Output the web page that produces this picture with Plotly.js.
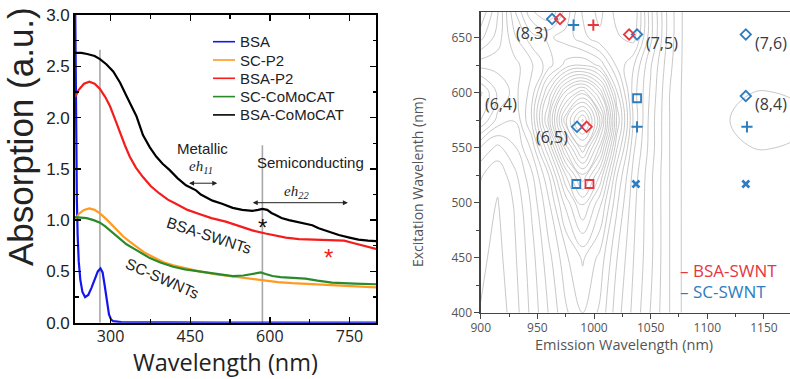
<!DOCTYPE html>
<html>
<head>
<meta charset="utf-8">
<script src="https://cdn.plot.ly/plotly-3.0.1.min.js"></script>
<style>
html,body{margin:0;padding:0;background:#fff;}
#chart{width:790px;height:379px;}
</style>
</head>
<body>
<div id="chart"></div>
<script>
// ---------- Left panel: absorption spectra ----------
const seriesNames = ['BSA', 'SC-P2', 'BSA-P2', 'SC-CoMoCAT', 'BSA-CoMoCAT'];

const bsaX = [233, 234, 235, 236.5, 238, 240, 243, 247, 252, 258, 264, 270, 276, 281, 285, 289, 293, 297, 301, 305, 320, 400, 500, 600, 700, 800];
const bsaY = [3.3, 2.6, 1.8, 1.2, 0.85, 0.6, 0.42, 0.3, 0.25, 0.27, 0.34, 0.43, 0.5, 0.53, 0.49, 0.36, 0.2, 0.08, 0.03, 0.015, 0.005, 0, 0, 0, 0, 0];

const scP2X = [233, 240, 250, 260, 270, 280, 292, 305, 315, 324, 336, 349, 362, 380, 400, 418, 440, 467, 500, 530, 560, 586, 615, 642, 680, 717, 760, 800];
const scP2Y = [1.00, 1.06, 1.10, 1.115, 1.10, 1.066, 1.01, 0.94, 0.89, 0.84, 0.79, 0.74, 0.69, 0.64, 0.59, 0.56, 0.53, 0.50, 0.47, 0.45, 0.43, 0.41, 0.395, 0.385, 0.375, 0.37, 0.355, 0.345];

const bsaP2X = [233, 240, 250, 260, 270, 280, 290, 299, 308, 318, 327, 336, 348, 361, 376, 392, 408, 423, 445, 467, 490, 517, 540, 567, 592, 610, 630, 655, 686, 705, 723, 740, 755, 770, 785, 800];
const bsaP2Y = [2.20, 2.27, 2.33, 2.35, 2.33, 2.28, 2.20, 2.11, 1.99, 1.85, 1.73, 1.62, 1.51, 1.42, 1.33, 1.26, 1.20, 1.16, 1.10, 1.06, 1.02, 0.985, 0.945, 0.90, 0.87, 0.85, 0.83, 0.815, 0.81, 0.81, 0.81, 0.80, 0.78, 0.76, 0.74, 0.72];

const scComoX = [233, 245, 255, 268, 280, 290, 299, 308, 318, 330, 343, 358, 374, 395, 418, 440, 467, 500, 530, 550, 567, 575, 583, 592, 605, 620, 636, 650, 667, 690, 717, 760, 800];
const scComoY = [1.03, 1.025, 1.02, 1.00, 0.975, 0.94, 0.90, 0.855, 0.81, 0.765, 0.725, 0.68, 0.63, 0.585, 0.546, 0.52, 0.50, 0.475, 0.455, 0.46, 0.475, 0.485, 0.49, 0.475, 0.455, 0.445, 0.44, 0.435, 0.43, 0.41, 0.39, 0.38, 0.375];

const bsaComoX = [233, 245, 256, 270, 280, 292, 305, 318, 330, 349, 361, 374, 386, 398, 411, 426, 442, 452, 461, 470, 480, 492, 510, 530, 548, 567, 578, 586, 595, 603, 611, 622, 636, 650, 667, 680, 692, 710, 730, 750, 767, 785, 800];
const bsaComoY = [2.63, 2.63, 2.62, 2.60, 2.57, 2.52, 2.45, 2.34, 2.21, 2.01, 1.83, 1.71, 1.62, 1.55, 1.49, 1.41, 1.34, 1.31, 1.29, 1.25, 1.22, 1.19, 1.16, 1.12, 1.10, 1.09, 1.10, 1.11, 1.10, 1.07, 1.05, 1.02, 1.00, 0.985, 0.97, 0.95, 0.92, 0.89, 0.855, 0.83, 0.81, 0.80, 0.795];

const refLineX = [280, 586];        // gray reference lines (nm)
const refLineTop = [2.66, 1.73];     // their heights
const leftTickVals = [300, 450, 600, 750];

// ---------- Right panel: PL excitation-emission map ----------
const mapX = [900, 915, 930, 945, 960, 975, 990, 1005, 1020, 1035, 1050, 1065, 1080, 1100, 1120, 1140, 1160, 1180];
const mapY = [400, 450, 500, 525, 550, 575, 600, 625, 650, 675];
const mapZ = [
  [14, 12, 16, 22, 28, 34, 38, 34, 26, 20, 14, 8, 3, 1, 1, 1, 1, 1],
  [15, 13, 17, 23, 30, 37, 42, 37, 28, 21, 15, 8, 3, 1, 1, 1, 1, 1],
  [16, 14, 18, 25, 34, 46, 56, 46, 32, 22, 15, 8, 3, 1, 1, 1, 1, 1],
  [18, 15, 20, 27, 38, 55, 68, 55, 35, 23, 15, 8, 3, 1, 1, 1, 1, 1],
  [24, 20, 24, 32, 48, 70, 85, 68, 42, 25, 16, 8, 3, 1, 2, 4, 4, 3],
  [38, 30, 28, 38, 60, 85, 100, 80, 48, 27, 16, 8, 3, 1, 4, 7, 7, 6],
  [42, 34, 30, 36, 52, 70, 78, 65, 42, 26, 17, 8, 3, 1, 2, 4, 4, 3],
  [30, 30, 30, 34, 40, 46, 48, 44, 34, 28, 18, 9, 3, 1, 1, 1, 1, 1],
  [20, 26, 34, 40, 42, 40, 36, 32, 34, 36, 22, 10, 3, 1, 1, 1, 1, 1],
  [14, 24, 38, 48, 52, 44, 34, 30, 36, 38, 22, 10, 3, 1, 1, 1, 1, 1]
];

const bsaDiamondX = [970, 1031, 993.5];
const bsaDiamondY = [667, 653, 569];
const scDiamondX = [963, 1038, 1134, 1134, 985];
const scDiamondY = [667, 653, 653, 597, 569];
const bsaPlusX = [999.4];
const bsaPlusY = [661.5];
const scPlusX = [982, 1038, 1135];
const scPlusY = [661.5, 569, 569];
const bsaSquareX = [996];
const bsaSquareY = [517];
const scSquareX = [984.4, 1038];
const scSquareY = [517, 595];
const scCrossX = [1037, 1134];
const scCrossY = [517, 517];

const chiralLabels = ['(8,3)', '(7,5)', '(7,6)', '(6,4)', '(8,4)', '(6,5)'];
const chiralX = [945.6, 1060, 1156, 917.6, 1156, 963];
const chiralY = [654, 645.5, 645.5, 590, 590, 560];
const mapLegendNames = ['BSA-SWNT', 'SC-SWNT'];

// ---------- colours ----------
const cBlue = '#1515ee', cOrange = '#ff9a22', cRed = '#f51c1c', cGreen = '#2a8a2a', cBlack = '#000000';
const mRed = '#e6373f', mBlue = '#2d7dc0';

const traces = [];
refLineX.forEach((x, i) => {
  traces.push({x: [x, x], y: [0, refLineTop[i]], mode: 'lines', line: {color: '#a8a8a8', width: 1.6},
    showlegend: false, hoverinfo: 'skip', xaxis: 'x', yaxis: 'y'});
});
const specX = [bsaX, scP2X, bsaP2X, scComoX, bsaComoX];
const specY = [bsaY, scP2Y, bsaP2Y, scComoY, bsaComoY];
const specC = [cBlue, cOrange, cRed, cGreen, cBlack];
seriesNames.forEach((n, i) => {
  traces.push({name: n, x: specX[i], y: specY[i], mode: 'lines', line: {color: specC[i], width: 2.2},
    xaxis: 'x', yaxis: 'y', showlegend: false});
});

traces.push({type: 'contour', x: mapX, y: mapY, z: mapZ, xaxis: 'x2', yaxis: 'y2',
  contours: {coloring: 'lines', start: 4, end: 100, size: 3.4},
  colorscale: [[0, '#bababa'], [1, '#bababa']], showscale: false,
  line: {width: 0.8, smoothing: 1.2}, hoverinfo: 'skip', showlegend: false});

function mk(x, y, sym, col, size, lw) {
  return {x: x, y: y, mode: 'markers', xaxis: 'x2', yaxis: 'y2', showlegend: false, hoverinfo: 'skip',
    marker: {symbol: sym, size: size, color: col, line: {color: col, width: lw}}};
}
traces.push(mk(scDiamondX, scDiamondY, 'diamond-open', mBlue, 8, 1.8));
traces.push(mk(bsaDiamondX, bsaDiamondY, 'diamond-open', mRed, 8, 1.8));
traces.push(mk(scPlusX, scPlusY, 'cross-thin-open', mBlue, 8, 2));
traces.push(mk(bsaPlusX, bsaPlusY, 'cross-thin-open', mRed, 8, 2));
traces.push(mk(scSquareX, scSquareY, 'square-open', mBlue, 8, 1.8));
traces.push(mk(bsaSquareX, bsaSquareY, 'square-open', mRed, 8, 1.8));
traces.push(mk(scCrossX, scCrossY, 'x-thin-open', mBlue, 7, 2.6));

const annotations = [];
const shapes = [];
const LF = 'Liberation Sans, Arial, sans-serif';
const OF = 'Open Sans, sans-serif';
function ann(o) { annotations.push(Object.assign({showarrow: false, xanchor: 'center', yanchor: 'middle'}, o)); }

// manual legend for left panel
seriesNames.forEach((n, i) => {
  const py = 41.7 + i * 18.3;
  shapes.push({type: 'line', xref: 'paper', yref: 'paper', x0: 213 / 790, x1: 235 / 790, y0: 1 - py / 379, y1: 1 - py / 379,
    line: {color: specC[i], width: 1.6}});
  ann({xref: 'paper', yref: 'paper', x: 238 / 790, y: 1 - py / 379, xanchor: 'left', text: n,
    font: {family: LF, size: 15, color: '#222'}});
});

// left panel texts
ann({xref: 'paper', yref: 'paper', x: 20 / 790, y: 1 - 137 / 379, text: 'Absorption (a.u.)', textangle: -90,
  font: {family: LF, size: 35, color: '#222'}});
ann({xref: 'paper', yref: 'paper', x: 225 / 790, y: 1 - 362 / 379, text: 'Wavelength (nm)',
  font: {family: OF, size: 23.5, color: '#222'}});
ann({xref: 'x', yref: 'y', x: 473, y: 1.70, text: 'Metallic', font: {family: LF, size: 15, color: '#222'}});
ann({xref: 'x', yref: 'y', x: 471, y: 1.52, text: '<i>eh</i><sub><i>11</i></sub>', font: {family: 'Liberation Serif, serif', size: 15, color: '#222'}});
ann({xref: 'x', yref: 'y', x: 677, y: 1.56, text: 'Semiconducting', font: {family: LF, size: 15, color: '#222'}});
ann({xref: 'x', yref: 'y', x: 651, y: 1.27, text: '<i>eh</i><sub><i>22</i></sub>', font: {family: 'Liberation Serif, serif', size: 15, color: '#222'}});
ann({xref: 'x', yref: 'y', x: 486, y: 0.85, text: 'BSA-SWNTs', textangle: 18, font: {family: LF, size: 15.5, color: '#222'}});
ann({xref: 'x', yref: 'y', x: 398, y: 0.43, text: 'SC-SWNTs', textangle: 24, font: {family: LF, size: 15.5, color: '#222'}});
ann({xref: 'x', yref: 'y', x: 586, y: 0.99, yshift: -6, text: '*', font: {family: LF, size: 24, color: '#111'}});
ann({xref: 'x', yref: 'y', x: 711, y: 0.69, yshift: -6, text: '*', font: {family: LF, size: 24, color: cRed}});
[[445, 501, 1.36], [565, 747, 1.17]].forEach(a => {
  annotations.push({xref: 'x', yref: 'y', axref: 'x', ayref: 'y', x: a[1], y: a[2], ax: a[0], ay: a[2], text: '',
    showarrow: true, arrowhead: 2, startarrowhead: 2, arrowside: 'end+start', arrowsize: 1, startarrowsize: 1,
    arrowwidth: 1, arrowcolor: '#222'});
});

// right panel texts
chiralLabels.forEach((t, i) => ann({xref: 'x2', yref: 'y2', x: chiralX[i], y: chiralY[i], text: t,
  font: {family: OF, size: 16, color: '#3a3a3a'}}));
ann({xref: 'x2', yref: 'y2', x: 1074, y: 438, xanchor: 'left', text: '– ' + mapLegendNames[0], font: {family: OF, size: 17, color: mRed}});
ann({xref: 'x2', yref: 'y2', x: 1074, y: 419.7, xanchor: 'left', text: '– ' + mapLegendNames[1], font: {family: OF, size: 17, color: mBlue}});
ann({xref: 'paper', yref: 'paper', x: 417 / 790, y: 1 - 182 / 379, text: 'Excitation Wavelenth (nm)', textangle: -90,
  font: {family: OF, size: 14, color: '#555'}});
ann({xref: 'paper', yref: 'paper', x: 624 / 790, y: 1 - 344 / 379, text: 'Emission Wavelength (nm)',
  font: {family: OF, size: 14.5, color: '#555'}});

const layout = {
  width: 790, height: 379,
  margin: {l: 0, r: 0, t: 0, b: 0},
  paper_bgcolor: '#ffffff', plot_bgcolor: '#ffffff',
  showlegend: false,
  xaxis: {domain: [75 / 790, 376 / 790], range: [233, 800], anchor: 'y',
    tickvals: leftTickVals, ticks: 'inside', ticklen: 6, tickwidth: 1.4, tickcolor: '#000', ticklabelstandoff: -2,
    minor: {dtick: 75, tick0: 300, ticks: 'inside', ticklen: 3.5, tickcolor: '#000'},
    showline: true, linecolor: '#000', linewidth: 1.8, mirror: 'allticks', showgrid: false, zeroline: false,
    tickfont: {family: OF, size: 16, color: '#222'}},
  yaxis: {domain: [1 - 322.7 / 379, 1 - 15 / 379], range: [0, 3.0], anchor: 'x',
    dtick: 0.5, tickformat: '.1f', ticks: 'inside', ticklen: 6, tickwidth: 1.4, tickcolor: '#000',
    minor: {dtick: 0.25, ticks: 'inside', ticklen: 3.5, tickcolor: '#000'},
    showline: true, linecolor: '#000', linewidth: 1.8, mirror: 'allticks', showgrid: false, zeroline: false,
    tickfont: {family: LF, size: 17, color: '#222'}},
  xaxis2: {domain: [480.7 / 790, 1], range: [900, 1173], anchor: 'y2',
    dtick: 50, ticks: 'outside', ticklen: 5, tickcolor: '#444', tickwidth: 1, ticklabelstandoff: -1,
    minor: {dtick: 25, ticks: 'outside', ticklen: 3, tickcolor: '#444'},
    showline: true, linecolor: '#444', linewidth: 1.3, mirror: true, showgrid: false, zeroline: false,
    tickfont: {family: OF, size: 12, color: '#555'}},
  yaxis2: {domain: [1 - 312.7 / 379, 1 - 12 / 379], range: [400, 673.4], anchor: 'x2',
    dtick: 50, ticks: 'outside', ticklen: 5, tickcolor: '#444', tickwidth: 1,
    minor: {dtick: 25, ticks: 'outside', ticklen: 3, tickcolor: '#444'},
    showline: true, linecolor: '#444', linewidth: 1.3, mirror: false, showgrid: false, zeroline: false,
    tickfont: {family: OF, size: 12, color: '#555'}},
  shapes: shapes,
  annotations: annotations
};

Plotly.newPlot('chart', traces, layout, {displayModeBar: false, staticPlot: true});
</script>
</body>
</html>
